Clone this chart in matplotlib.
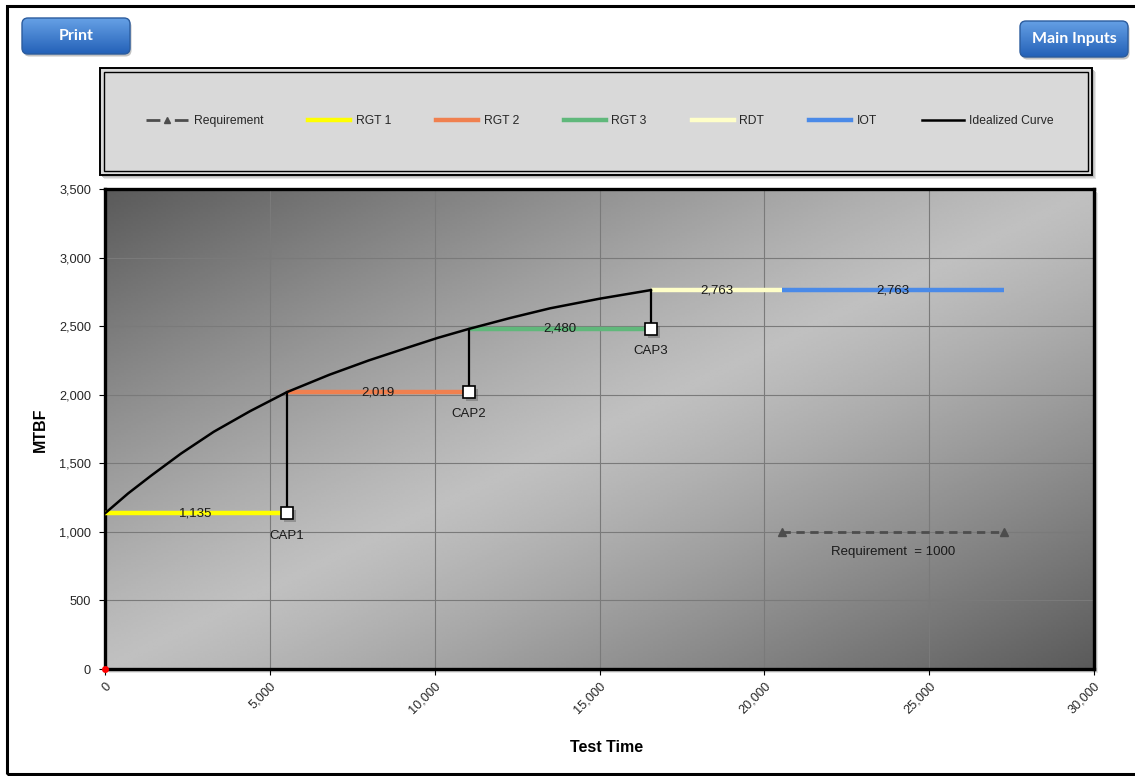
import numpy as np
import matplotlib.pyplot as plt
import matplotlib.transforms as mtransforms
from matplotlib.patches import Rectangle, FancyBboxPatch
from matplotlib.lines import Line2D
from matplotlib.ticker import FuncFormatter
import matplotlib.patheffects as pe

plt.rcParams['font.family'] = ['Liberation Sans', 'DejaVu Sans']

# idealized growth curve
curve_t = [0, 700, 1400, 2300, 3300, 4400, 5520, 6800, 8000, 9200, 10100,
           11040, 12300, 13500, 15000, 16560]
curve_m = [1135, 1280, 1410, 1570, 1730, 1880, 2019, 2145, 2250, 2345, 2415,
           2480, 2560, 2630, 2700, 2763]

# test phases
phase_names = ["RGT 1", "RGT 2", "RGT 3", "RDT", "IOT"]
phase_start = [0, 5520, 11040, 16560, 20540]
phase_end = [5520, 11040, 16560, 20540, 27270]
phase_mtbf = [1135, 2019, 2480, 2763, 2763]
phase_colors = ["#ffff00", "#f0804f", "#60b87b", "#ffffc8", "#4a8ae8"]

# corrective action periods
cap_names = ["CAP1", "CAP2", "CAP3"]
cap_t = [5520, 11040, 16560]
cap_before = [1135, 2019, 2480]
cap_after = [2019, 2480, 2763]

# requirement
req_t = [20540, 27270]
req_mtbf = [1000, 1000]
req_value = 1000

W, H = 1135, 776
fig = plt.figure(figsize=(W / 100, H / 100), dpi=100)
fig.patch.set_facecolor("white")


def fx(x):
    return x / W


def fy(y):
    return 1 - y / H


# outer frame
fig.patches.append(Rectangle((fx(7), fy(774)), fx(1140) - fx(7), fy(6) - fy(774),
                             transform=fig.transFigure, fill=False, ec="black", lw=2.2,
                             zorder=-2))

# legend box with double border and soft shadow
for off, col in [(4, "#e6e6e6"), (3, "#cfcfcf"), (2, "#b8b8b8")]:
    fig.patches.append(Rectangle((fx(100 + off), fy(175 + off)), fx(1092) - fx(100),
                                 fy(68) - fy(175), transform=fig.transFigure,
                                 fc=col, ec="none", zorder=-1))
fig.patches.append(Rectangle((fx(100), fy(175)), fx(1092) - fx(100), fy(68) - fy(175),
                             transform=fig.transFigure, fc="#d9d9d9", ec="black", lw=1.4,
                             zorder=-1))
fig.patches.append(Rectangle((fx(104), fy(171)), fx(1088) - fx(104), fy(72) - fy(171),
                             transform=fig.transFigure, fill=False, ec="black", lw=1.0,
                             zorder=-1))

# plot area shadow
for off, col in [(4, "#e6e6e6"), (3, "#cccccc"), (2, "#b3b3b3")]:
    fig.patches.append(Rectangle((fx(105 + off), fy(669 + off)), fx(1094) - fx(105),
                                 fy(189) - fy(669), transform=fig.transFigure,
                                 fc=col, ec="none", zorder=-1))

ax = fig.add_axes([fx(105), fy(669), fx(1094) - fx(105), fy(189) - fy(669)])

# diagonal gradient background
xn = np.linspace(0, 1, 400)
yn = np.linspace(1, 0, 200)
X, Y = np.meshgrid(xn, yn)
s = np.abs(X - Y)
g = (192 - 102 * s ** 1.15) / 255
ax.imshow(g, cmap="gray", vmin=0, vmax=1, extent=[0, 30000, 0, 3500],
          aspect="auto", zorder=0, interpolation="bilinear")

ax.set_xlim(0, 30000)
ax.set_ylim(0, 3500)
ax.set_xticks(range(0, 30001, 5000))
ax.set_yticks(range(0, 3501, 500))
ax.grid(True, color="#7a7a7a", lw=0.8)
ax.set_axisbelow(True)
fmt = FuncFormatter(lambda v, p: f"{v:,.0f}")
ax.xaxis.set_major_formatter(fmt)
ax.yaxis.set_major_formatter(fmt)
ax.tick_params(axis="both", labelsize=9.2, labelcolor="#262626", length=4, width=0.8)
ax.tick_params(axis="y", pad=6)
ax.tick_params(axis="x", pad=4)
for lab in ax.get_xticklabels():
    lab.set_rotation(45)
    lab.set_ha("right")
    lab.set_va("top")
    lab.set_rotation_mode("anchor")
for sp in ax.spines.values():
    sp.set_linewidth(2.4)
    sp.set_color("black")

# phase lines and value labels
for st, en, m, c in zip(phase_start, phase_end, phase_mtbf, phase_colors):
    ax.plot([st, en], [m, m], color=c, lw=3.2, solid_capstyle="butt", zorder=3)
    ax.text((st + en) / 2, m, f"{m:,}", ha="center", va="center", fontsize=9.5,
            color="#1a1a1a", zorder=8)

# idealized curve
ax.plot(curve_t, curve_m, color="black", lw=1.8, zorder=4)

# CAP jumps
for t, b, a, name in zip(cap_t, cap_before, cap_after, cap_names):
    ax.plot([t, t], [b, a], color="black", lw=1.6, zorder=4)
    ax.annotate(name, (t, b), xytext=(0, -16), textcoords="offset points",
                ha="center", va="center", fontsize=9.5, color="#1a1a1a", zorder=8)
ax.plot(cap_t, cap_before, "s", ms=8.5, mfc="white", mec="black", mew=1.2, zorder=6,
        path_effects=[pe.SimplePatchShadow(offset=(2, -2), alpha=0.35), pe.Normal()])

# requirement
ax.plot(req_t, req_mtbf, color="#4d4d4d", lw=2, dashes=(3, 2), marker="^", ms=6, zorder=3)
shift = mtransforms.ScaledTranslation(0, -14 / 100, fig.dpi_scale_trans)
ax.text(sum(req_t) / 2, req_value, f"Requirement  = {req_value}", ha="center", va="top",
        fontsize=9.5, color="#1a1a1a", zorder=8, transform=ax.transData + shift)

ax.plot(0, 0, "o", color="red", ms=4, clip_on=False, zorder=9)

# axis titles
fig.text(fx(607), fy(747), "Test Time", ha="center", va="center", fontsize=11.5,
         fontweight="bold")
fig.text(fx(40), fy(430), "MTBF", ha="center", va="center", fontsize=11.5,
         fontweight="bold", rotation=90)

# legend
handles = [Line2D([], [], color="#4d4d4d", lw=2, dashes=(5, 5.2), marker="^", ms=5)]
handles += [Line2D([], [], color=c, lw=3.2) for c in phase_colors]
handles += [Line2D([], [], color="black", lw=1.8)]
labels = ["Requirement"] + phase_names + ["Idealized Curve"]
fig.legend(handles, labels, loc="center", bbox_to_anchor=(fx(600), fy(121)), ncol=7,
           frameon=False, fontsize=8.7, handlelength=3.5, columnspacing=3.7,
           handletextpad=0.45, numpoints=1, labelcolor="#262626")


# buttons
def button(x0, y0, x1, y1, text):
    w, h = x1 - x0, y1 - y0
    bax = fig.add_axes([fx(x0 - 2), fy(y1 + 4), (w + 6) / W, (h + 6) / H])
    bax.set_xlim(-2, w + 4)
    bax.set_ylim(-4, h + 2)
    bax.axis("off")
    shadow = FancyBboxPatch((1.5, -2.5), w, h, boxstyle="round,pad=0,rounding_size=6",
                            fc="#9a9a9a", ec="none", alpha=0.6, zorder=-1)
    bax.add_patch(shadow)
    grad = np.linspace(0, 1, 64)[:, None]
    top = np.array([0.40, 0.63, 0.90])
    bot = np.array([0.14, 0.38, 0.72])
    img = top[None, None, :] * (1 - grad[:, :, None]) + bot[None, None, :] * grad[:, :, None]
    im = bax.imshow(img, extent=[0, w, 0, h], origin="upper", aspect="auto", zorder=1)
    box = FancyBboxPatch((0, 0), w, h, boxstyle="round,pad=0,rounding_size=6",
                         fc="none", ec="#2b5c9e", lw=1, zorder=2)
    bax.add_patch(box)
    im.set_clip_path(box)
    bax.text(w / 2, h / 2, text, ha="center", va="center", color="white",
             fontsize=11.5, fontweight="bold", family=["Lato", "DejaVu Sans"], zorder=3)


button(22, 18, 130, 54, "Print")
button(1020, 21, 1128, 57, "Main Inputs")

fig.savefig("out.png", dpi=100)
